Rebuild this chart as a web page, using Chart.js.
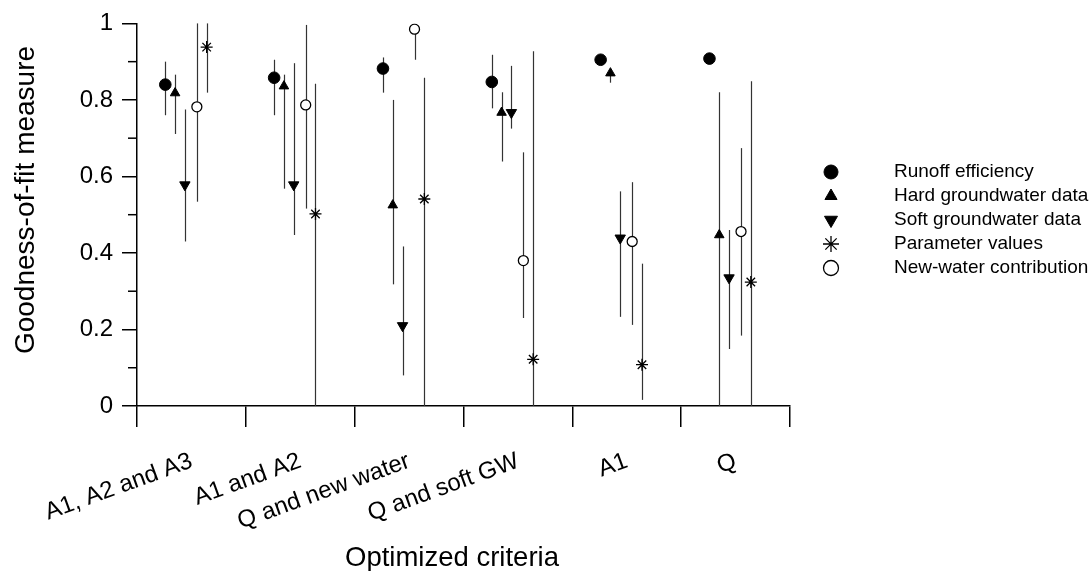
<!DOCTYPE html>
<html><head><meta charset="utf-8">
<script src="https://cdn.jsdelivr.net/npm/chart.js@4/dist/chart.umd.min.js"></script>
<style>html,body{margin:0;padding:0;background:#fff}#wrap{width:1089px;height:571px;position:relative}</style>
</head><body><div id="wrap"><canvas id="c"></canvas></div>
<script>
// ---- data ----
const categories = ['A1, A2 and A3', 'A1 and A2', 'Q and new water', 'Q and soft GW', 'A1', 'Q'];
const yTickLabels = ['0', '0.2', '0.4', '0.6', '0.8', '1'];
const minorTicks = [0.1, 0.3, 0.5, 0.7, 0.9];
const xTitle = 'Optimized criteria';
const yTitle = 'Goodness-of-fit measure';

const seriesNames = ['Runoff efficiency', 'Hard groundwater data', 'Soft groundwater data', 'Parameter values', 'New-water contribution'];

const runoff     = [0.840, 0.858, 0.882, 0.847, 0.905, 0.908];
const runoffLow  = [0.760, 0.760, 0.819, 0.778, null, null];
const runoffHigh = [0.900, 0.905, 0.911, 0.918, null, null];

const hard     = [0.818, 0.836, 0.525, 0.767, 0.870, 0.447];
const hardLow  = [0.711, 0.568, 0.318, 0.639, 0.845, 0.000];
const hardHigh = [0.866, 0.866, 0.800, 0.820, 0.870, 0.820];

const soft     = [0.578, 0.578, 0.210, 0.767, 0.439, 0.335];
const softLow  = [0.430, 0.447, 0.080, 0.725, 0.233, 0.149];
const softHigh = [0.775, 0.896, 0.417, 0.889, 0.561, 0.460];

const param     = [0.938, 0.502, 0.541, 0.122, 0.108, 0.324];
const paramLow  = [0.819, 0.000, 0.000, 0.000, 0.016, 0.000];
const paramHigh = [1.000, 0.842, 0.858, 0.927, 0.372, 0.849];

const newWater     = [0.782, 0.787, 0.985, 0.380, 0.430, 0.456];
const newWaterLow  = [0.534, 0.516, 0.905, 0.230, 0.212, 0.184];
const newWaterHigh = [1.000, 0.996, 0.985, 0.663, 0.585, 0.674];

// ---- layout / style ----
const FONT = '"Liberation Sans", Arial, Helvetica, sans-serif';
const seriesOffset = [-0.24, -0.15, -0.06, 0.14, 0.05]; // horizontal shift inside a category
function pts(vals, k) { return vals.map((v, i) => ({ x: i + 0.5 + seriesOffset[k], y: v })); }

const errorBars = {
  id: 'errorBars',
  beforeDatasetsDraw(chart) {
    const { ctx, scales: { x, y } } = chart;
    ctx.save();
    ctx.strokeStyle = '#333';
    ctx.lineWidth = 1.2;
    chart.data.datasets.forEach(ds => {
      ds.data.forEach((p, i) => {
        const lo = ds.errLow[i], hi = ds.errHigh[i];
        if (lo == null && hi == null) return;
        const px = Math.round(x.getPixelForValue(p.x)) + 0.5;
        ctx.beginPath();
        ctx.moveTo(px, y.getPixelForValue(hi == null ? p.y : hi));
        ctx.lineTo(px, y.getPixelForValue(lo == null ? p.y : lo));
        ctx.stroke();
      });
    });
    ctx.restore();
  }
};

const minorTickPlugin = {
  id: 'minorTicks',
  afterDraw(chart) {
    const { ctx, scales: { y } } = chart;
    ctx.save();
    ctx.strokeStyle = '#000';
    ctx.lineWidth = 1.5;
    minorTicks.forEach(v => {
      const py = y.getPixelForValue(v);
      ctx.beginPath();
      ctx.moveTo(y.right - 9, py);
      ctx.lineTo(y.right, py);
      ctx.stroke();
    });
    ctx.restore();
  }
};

const axisTitles = {
  id: 'axisTitles',
  afterDraw(chart) {
    const ctx = chart.ctx;
    ctx.save();
    ctx.fillStyle = '#000';
    ctx.textAlign = 'center';
    ctx.font = '27.5px ' + FONT;
    ctx.textBaseline = 'alphabetic';
    ctx.fillText(xTitle, 452, 566);
    ctx.translate(26, 200);
    ctx.rotate(-Math.PI / 2);
    ctx.font = '28px ' + FONT;
    ctx.textBaseline = 'middle';
    ctx.fillText(yTitle, 0, 0);
    ctx.restore();
  }
};

const legendMarkerX = 831, legendTextX = 894, legendTop = 172, legendStep = 24;
const sideLegend = {
  id: 'sideLegend',
  afterDraw(chart) {
    const ctx = chart.ctx;
    ctx.save();
    chart.data.datasets.forEach((ds, k) => {
      const yy = legendTop + k * legendStep;
      ctx.fillStyle = ds.backgroundColor;
      ctx.strokeStyle = ds.borderColor;
      ctx.lineWidth = ds.borderWidth;
      Chart.helpers.drawPoint(ctx, {
        pointStyle: ds.pointStyle, rotation: ds.pointRotation || 0,
        radius: ds.legendRadius, borderWidth: ds.borderWidth
      }, legendMarkerX, yy);
      ctx.fillStyle = '#000';
      ctx.font = '19px ' + FONT;
      ctx.textBaseline = 'middle';
      ctx.textAlign = 'left';
      ctx.fillText(ds.label, legendTextX, yy);
    });
    ctx.restore();
  }
};

const datasets = [
  { label: seriesNames[0], data: pts(runoff, 0), errLow: runoffLow, errHigh: runoffHigh,
    pointStyle: 'circle', pointRadius: 5.8, legendRadius: 7, backgroundColor: '#000', borderColor: '#000', borderWidth: 1 },
  { label: seriesNames[1], data: pts(hard, 1), errLow: hardLow, errHigh: hardHigh,
    pointStyle: 'triangle', pointRadius: 5.5, legendRadius: 7, backgroundColor: '#000', borderColor: '#000', borderWidth: 1 },
  { label: seriesNames[2], data: pts(soft, 2), errLow: softLow, errHigh: softHigh,
    pointStyle: 'triangle', pointRotation: 180, pointRadius: 6, legendRadius: 7.5, backgroundColor: '#000', borderColor: '#000', borderWidth: 1 },
  { label: seriesNames[3], data: pts(param, 3), errLow: paramLow, errHigh: paramHigh,
    pointStyle: 'star', pointRadius: 6, legendRadius: 8, backgroundColor: '#000', borderColor: '#000', borderWidth: 1.3 },
  { label: seriesNames[4], data: pts(newWater, 4), errLow: newWaterLow, errHigh: newWaterHigh,
    pointStyle: 'circle', pointRadius: 5, legendRadius: 7.5, backgroundColor: '#fff', borderColor: '#000', borderWidth: 1.3 }
].map(d => Object.assign(d, { xAxisID: 'x', yAxisID: 'y', showLine: false, pointHoverRadius: d.pointRadius }));

new Chart(document.getElementById('c'), {
  type: 'scatter',
  data: { datasets },
  options: {
    responsive: true,
    maintainAspectRatio: false,
    animation: false,
    layout: { padding: { left: 0, top: 20, right: 299, bottom: 0 } },
    plugins: { legend: { display: false }, tooltip: { enabled: false } },
    scales: {
      x: {
        type: 'linear', axis: 'x', position: 'bottom', weight: 0,
        min: 0, max: categories.length,
        afterFit(s) { s.height = 21; },
        ticks: { stepSize: 1, display: false },
        grid: { drawOnChartArea: false, tickLength: 21, color: '#000', lineWidth: 1.5 },
        border: { color: '#000', width: 1.5 }
      },
      xl: {
        type: 'category', axis: 'x', position: 'bottom', weight: 1,
        labels: categories, offset: true,
        afterFit(s) { s.height = 144; },
        grid: { display: false },
        border: { display: false },
        ticks: { autoSkip: false, minRotation: 20, maxRotation: 20, padding: 12, color: '#000',
                 font: { family: FONT, size: 24 } }
      },
      y: {
        type: 'linear', position: 'left', min: 0, max: 1,
        afterFit(s) { s.width = 137; },
        ticks: { stepSize: 0.2, padding: 9, color: '#000', font: { family: FONT, size: 24 },
                 callback: (v, i) => yTickLabels[i] },
        grid: { drawOnChartArea: false, tickLength: 15, color: '#000', lineWidth: 1.5 },
        border: { color: '#000', width: 1.5 }
      }
    }
  },
  plugins: [errorBars, minorTickPlugin, axisTitles, sideLegend]
});
</script>
</body></html>
